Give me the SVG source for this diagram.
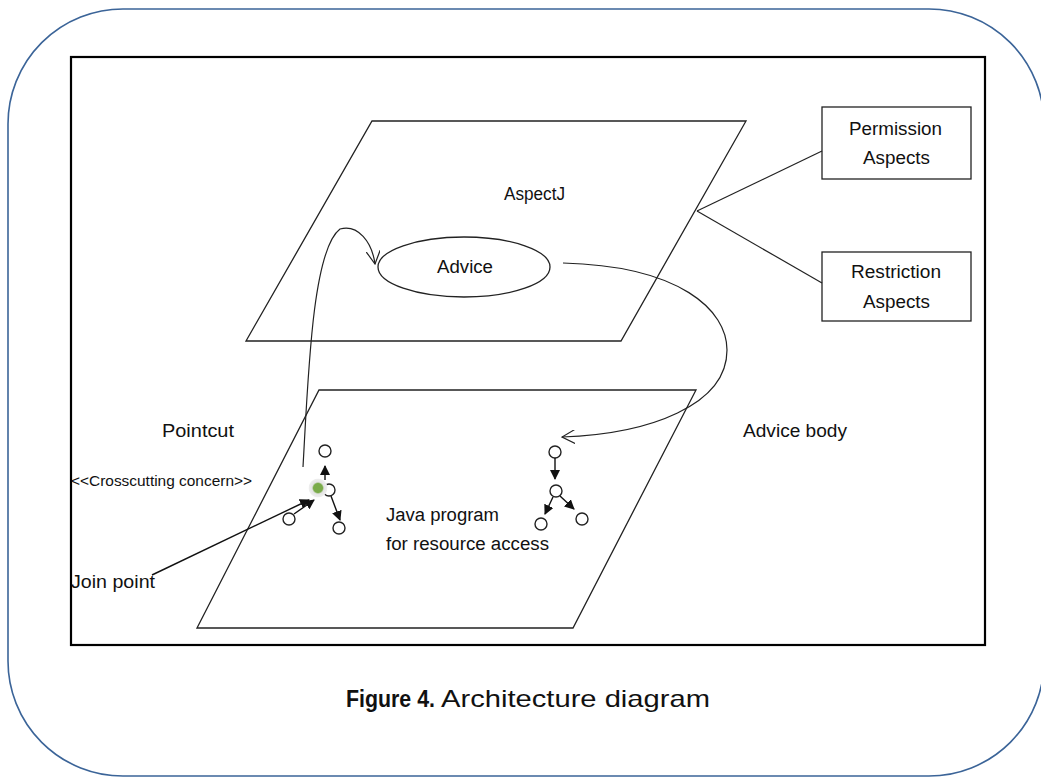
<svg xmlns="http://www.w3.org/2000/svg" width="1041" height="778" viewBox="0 0 1041 778">
<style>
  text { font-family: "Liberation Sans", Arial, sans-serif; font-size: 18px; fill: #111; }
  .sm { font-size: 14.5px; }
  .cap { font-size: 24px; }
  .thin { fill: none; stroke: #222; stroke-width: 1.2; }
  .node { fill: #fff; stroke: #222; stroke-width: 1.3; }
  .circ { fill: #fff; stroke: #222; stroke-width: 1.4; }
  .arr { fill: none; stroke: #111; stroke-width: 1.4; }
</style>
<defs>
  <marker id="tri" viewBox="0 0 10 10" refX="9" refY="5" markerWidth="10" markerHeight="10" markerUnits="userSpaceOnUse" orient="auto">
    <path d="M0,0 L10,5 L0,10 Z" fill="#111"/>
  </marker>
  <marker id="open" viewBox="0 0 14 14" refX="13" refY="7" markerWidth="14" markerHeight="14" markerUnits="userSpaceOnUse" orient="auto">
    <path d="M0,0 L13,7 L0,14" fill="none" stroke="#222" stroke-width="1.2"/>
  </marker>
  <radialGradient id="glow">
    <stop offset="0.45" stop-color="#7aab4a"/>
    <stop offset="0.6" stop-color="#e4e4e4"/>
    <stop offset="0.9" stop-color="#eeeeee"/>
    <stop offset="1" stop-color="#ffffff" stop-opacity="0"/>
  </radialGradient>
</defs>
<rect width="1041" height="778" fill="#fff"/>
<rect id="frame" x="8" y="9" width="1036" height="767" rx="115" ry="115" fill="none" stroke="#3b6498" stroke-width="1.6"/>
<rect id="canvas" x="71" y="57" width="914" height="588" fill="none" stroke="#000" stroke-width="2.2"/>

<g id="aspectj-plane">
  <polygon points="372,121 746,121 621,341 246,341" class="node" fill="none"/>
  <text x="504" y="200" textLength="61" lengthAdjust="spacingAndGlyphs">AspectJ</text>
</g>
<g id="program-plane">
  <polygon points="319,390 696,390 573,628 197,628" class="node" fill="none"/>
  <text x="386" y="521" textLength="113" lengthAdjust="spacingAndGlyphs">Java program</text>
  <text x="386" y="550" textLength="163" lengthAdjust="spacingAndGlyphs">for resource access</text>
</g>
<g id="advice">
  <ellipse cx="464" cy="267" rx="86" ry="30" class="node"/>
  <text x="437" y="273" textLength="56" lengthAdjust="spacingAndGlyphs">Advice</text>
</g>
<g id="permission">
  <rect x="822" y="107" width="149" height="72" class="node"/>
  <text x="849" y="135" textLength="93" lengthAdjust="spacingAndGlyphs">Permission</text>
  <text x="863" y="164" textLength="67" lengthAdjust="spacingAndGlyphs">Aspects</text>
</g>
<g id="restriction">
  <rect x="822" y="252" width="149" height="69" class="node"/>
  <text x="851" y="278" textLength="90" lengthAdjust="spacingAndGlyphs">Restriction</text>
  <text x="863" y="308" textLength="67" lengthAdjust="spacingAndGlyphs">Aspects</text>
</g>
<g id="labels">
  <text x="162" y="437" textLength="72" lengthAdjust="spacingAndGlyphs">Pointcut</text>
  <text x="71" y="486" class="sm" textLength="181" lengthAdjust="spacingAndGlyphs">&lt;&lt;Crosscutting concern&gt;&gt;</text>
  <text x="71" y="588" textLength="84" lengthAdjust="spacingAndGlyphs">Join point</text>
  <text x="743" y="437" textLength="104" lengthAdjust="spacingAndGlyphs">Advice body</text>
</g>
<g id="joinpoints-left">
  <circle cx="325" cy="451" r="6" class="circ"/>
  <circle cx="329" cy="490" r="6" class="circ"/>
  <circle cx="318" cy="488" r="10" fill="url(#glow)"/>
  <circle cx="289" cy="519" r="6" class="circ"/>
  <circle cx="339" cy="528" r="6" class="circ"/>
</g>
<g id="joinpoints-right">
  <circle cx="555" cy="452" r="6" class="circ"/>
  <circle cx="556" cy="491" r="6" class="circ"/>
  <circle cx="541" cy="524" r="6" class="circ"/>
  <circle cx="582" cy="519" r="6" class="circ"/>
</g>
<g id="connectors">
  <line x1="697" y1="211" x2="822" y2="151" class="thin"/>
  <line x1="697" y1="211" x2="822" y2="283" class="thin"/>
  <path d="M303,467 C308,380 312,250 340,229 C358,224 372,242 375,264" class="thin" marker-end="url(#open)"/>
  <path d="M563,263 C680,266 727,310 727,350 C727,405 650,434 562,437" class="thin" marker-end="url(#open)"/>
  <line x1="152" y1="575" x2="309" y2="500" class="arr" marker-end="url(#tri)"/>
  <line x1="294" y1="514" x2="314" y2="500" class="arr" marker-end="url(#tri)"/>
  <line x1="325" y1="480" x2="325" y2="466" class="arr" marker-end="url(#tri)"/>
  <line x1="331" y1="496" x2="340" y2="520" class="arr" marker-end="url(#tri)"/>
  <line x1="555" y1="458" x2="555" y2="479" class="arr" marker-end="url(#tri)"/>
  <line x1="553" y1="497" x2="545" y2="514" class="arr" marker-end="url(#tri)"/>
  <line x1="560" y1="496" x2="574" y2="509" class="arr" marker-end="url(#tri)"/>
</g>
<g id="caption">
  <text x="346" y="707" class="cap" font-weight="bold" textLength="89" lengthAdjust="spacingAndGlyphs">Figure 4.</text>
  <text x="441" y="707" class="cap" textLength="269" lengthAdjust="spacingAndGlyphs">Architecture diagram</text>
</g>
</svg>
